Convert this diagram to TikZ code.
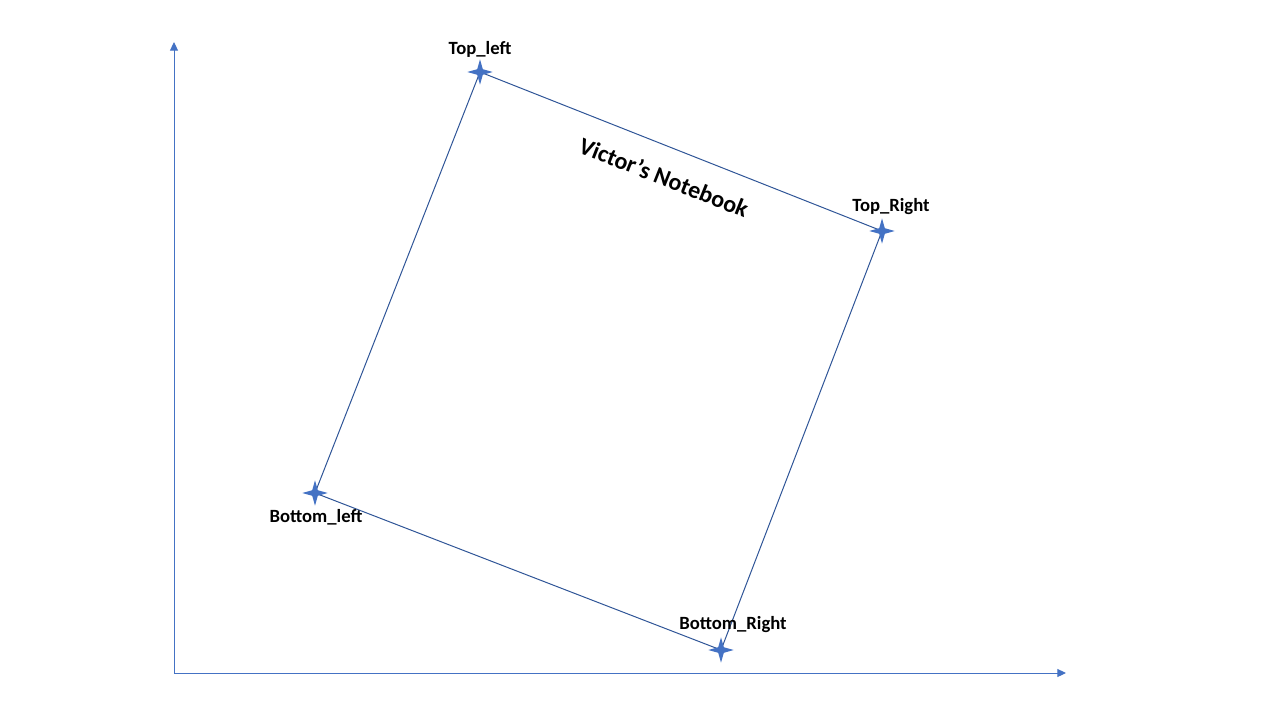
\documentclass[tikz,border=0pt]{standalone}
\usepackage{fontspec}
\setmainfont{Carlito}
\usetikzlibrary{shapes.geometric,arrows.meta}
\definecolor{axisblue}{HTML}{4472C4}
\definecolor{edgeblue}{HTML}{2F5597}
\tikzset{
  corner/.style={star, star points=4, star point ratio=3.2, fill=axisblue, inner sep=0pt, minimum size=19pt},
  cornerlabel/.style={font=\bfseries\fontsize{14}{17}\selectfont},
  edge/.style={draw=edgeblue, line width=0.75pt},
  axis/.style={draw=axisblue, line width=0.75pt, -{Triangle[width=6pt,length=6.5pt]}}
}
\begin{document}
\begin{tikzpicture}[x=0.75pt, y=-0.75pt]
  \useasboundingbox (0,0) rectangle (1280,720);
  % axes
  \coordinate (origin) at (174,673);
  \coordinate (ytop) at (174,42);
  \coordinate (xend) at (1066,673);
  \draw[axis] (origin) -- (ytop);
  \draw[axis] (origin) -- (xend);
  % notebook corners
  \coordinate (tl) at (480,72);
  \coordinate (tr) at (882,231);
  \coordinate (br) at (721,650);
  \coordinate (bl) at (315,493);
  \draw[edge] (tl) -- (tr) -- (br) -- (bl) -- cycle;
  \node[corner] (tlstar) at (tl) {};
  \node[corner] (trstar) at (tr) {};
  \node[corner] (brstar) at (br) {};
  \node[corner] (blstar) at (bl) {};
  \node[cornerlabel] (tllabel) at (480,49) {Top\_left};
  \node[cornerlabel] (trlabel) at (891,207) {Top\_Right};
  \node[cornerlabel] (brlabel) at (733,625) {Bottom\_Right};
  \node[cornerlabel] (bllabel) at (316,517) {Bottom\_left};
  \node[font=\bfseries\fontsize{18}{22}\selectfont, rotate=-21.6] (title) at (664,177) {Victor’s Notebook};
\end{tikzpicture}
\end{document}
